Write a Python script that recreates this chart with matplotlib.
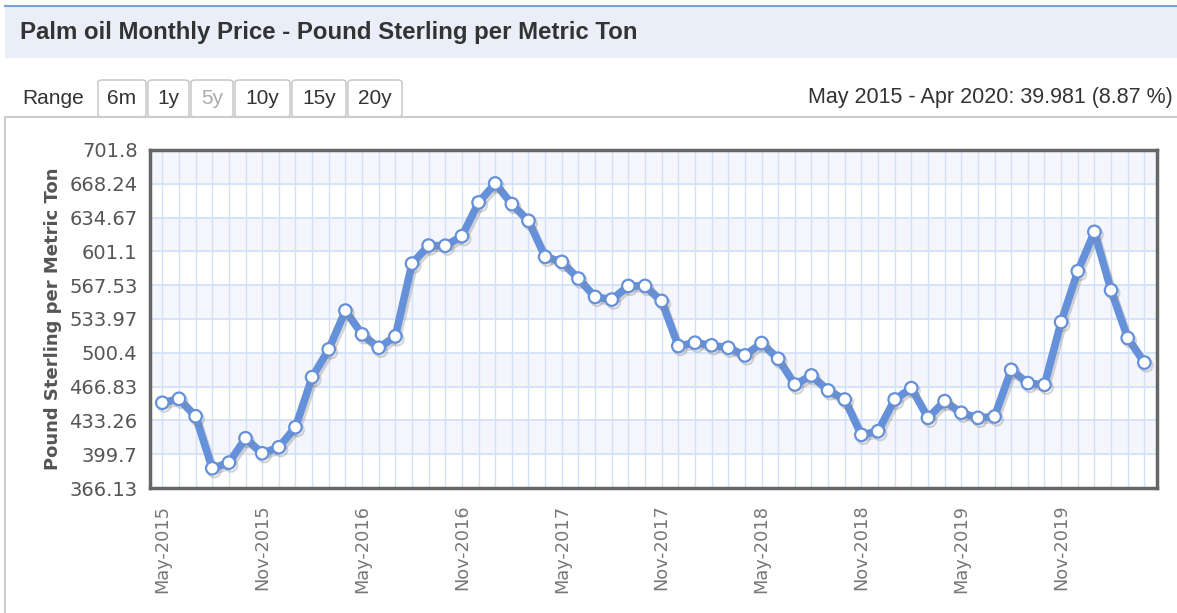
import matplotlib
matplotlib.use("Agg")
import matplotlib.pyplot as plt
import matplotlib.patheffects as pe
from matplotlib.patches import Rectangle, FancyBboxPatch
import pandas as pd

W, H = 1177, 613

# monthly prices, May 2015 .. Apr 2020
prices = [450.8, 454.7, 437.4, 385.7, 391.3, 415.5, 400.6, 406.6, 426.5, 476.2,
          503.8, 542.3, 518.7, 505.4, 516.7, 589.0, 606.9, 606.7, 616.2, 649.7,
          668.6, 648.1, 631.5, 595.7, 590.7, 574.1, 555.9, 553.2, 566.8, 566.8,
          551.9, 507.1, 510.4, 507.8, 505.4, 497.8, 510.1, 494.5, 468.9, 477.9,
          463.0, 454.0, 418.9, 422.5, 454.0, 465.3, 435.8, 452.4, 440.8, 435.8,
          437.1, 483.5, 470.3, 468.6, 531.0, 581.4, 620.5, 562.5, 515.1, 490.7]
months = pd.date_range("2015-05-01", periods=len(prices), freq="MS")
y_ticks = [366.13, 399.7, 433.26, 466.83, 500.4, 533.97, 567.53, 601.1, 634.67, 668.24, 701.8]
range_buttons = ["6m", "1y", "5y", "10y", "15y", "20y"]
title = "Palm oil Monthly Price - Pound Sterling per Metric Ton"
summary = "May 2015 - Apr 2020: 39.981 (8.87 %)"

LINE = "#6590da"


def px(x, y):
    return x / W, 1 - y / H


fig = plt.figure(figsize=(W / 100, H / 100), dpi=100)

# header bar
fig.patches.append(Rectangle(px(5, 58), (W - 5) / W, 52 / H, transform=fig.transFigure,
                             facecolor="#e9eef9", edgecolor="none"))
fig.add_artist(plt.Line2D([5 / W, 1], [1 - 6 / H] * 2, color="#7b9fdc", lw=1.5))
fig.text(*px(20, 33), title, fontsize=17.3, fontweight="bold", color="#333333",
         family="Liberation Sans", va="center", ha="left")

# range selector
fig.text(*px(22, 98), "Range", fontsize=15, color="#333333", family="Liberation Sans",
         va="center", ha="left")
edges = [97, 147, 190, 234, 291, 347, 403]
for i, lab in enumerate(range_buttons):
    x0, x1 = edges[i], edges[i + 1]
    fig.patches.append(FancyBboxPatch(px(x0 + 1, 117), (x1 - x0 - 2) / W, 37 / H,
                                      boxstyle="round,pad=0,rounding_size=0.004",
                                      transform=fig.transFigure, facecolor="white",
                                      edgecolor="#cccccc", lw=1.2))
    fig.text(*px((x0 + x1) / 2, 98), lab, fontsize=15,
             color="#aaaaaa" if lab == "5y" else "#333333",
             family="Liberation Sans", va="center", ha="center")
fig.text(*px(1173, 98), summary, fontsize=15.5, color="#333333", family="Liberation Sans",
         va="center", ha="right")

# panel border
fig.add_artist(plt.Line2D([5 / W, 1], [1 - 117 / H] * 2, color="#cccccc", lw=1.5))
fig.add_artist(plt.Line2D([5 / W, 5 / W], [0, 1 - 117 / H], color="#cccccc", lw=1.5))

# plot area
ax = fig.add_axes([150 / W, 1 - 488 / H, (1157 - 150) / W, (488 - 150) / H])
x = list(range(len(prices)))
ax.set_xlim(-0.74, len(prices) - 0.24)
ax.set_ylim(y_ticks[0], y_ticks[-1])

for k in range(1, len(y_ticks) - 1, 2):
    ax.axhspan(y_ticks[k], y_ticks[k + 1], color="#f4f6fb", zorder=0)
ax.axhspan(y_ticks[-2], y_ticks[-1], color="#f4f6fb", zorder=0)

ax.set_yticks(y_ticks)
ax.set_yticklabels([f"{v:g}" for v in y_ticks])
ax.set_xticks(x[::6])
ax.set_xticklabels([m.strftime("%b-%Y") for m in months[::6]], rotation=90)
ax.set_xticks(x, minor=True)
ax.grid(True, which="both", axis="x", color="#d3e1f8", lw=1, zorder=1)
ax.grid(True, which="major", axis="y", color="#d3e1f8", lw=1.3, zorder=1)
ax.tick_params(axis="both", which="both", length=0)
ax.tick_params(axis="y", labelsize=14, labelcolor="#555555", pad=9)
ax.tick_params(axis="x", labelsize=12.8, labelcolor="#777777", pad=12)
for lab in ax.get_xticklabels():
    lab.set_va("top")

ax.plot(x, prices, color=LINE, lw=5.5, marker="o", markersize=9,
        markerfacecolor="white", markeredgecolor=LINE, markeredgewidth=1.6,
        solid_joinstyle="round", zorder=3,
        path_effects=[pe.SimpleLineShadow(offset=(1.5, -2), shadow_color="#888888", alpha=0.35),
                      pe.Normal()])

for s in ax.spines.values():
    s.set_color("#666666")
    s.set_linewidth(2.5)

ax.set_ylabel("Pound Sterling per Metric Ton", fontsize=13, fontweight="bold",
              color="#555555", labelpad=5)

fig.savefig("out.png", dpi=100)
